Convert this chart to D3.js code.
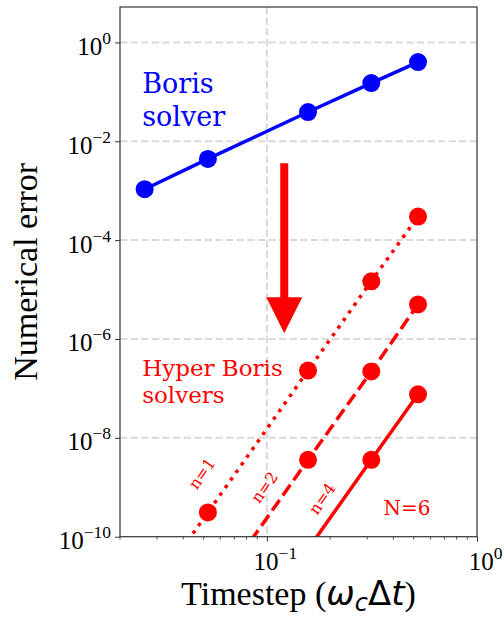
<!DOCTYPE html>
<html>
<head>
<meta charset="utf-8">
<script src="https://cdn.jsdelivr.net/npm/d3@7"></script>
<style>
  body { margin: 0; background: #fff; }
  svg { display: block; }
</style>
</head>
<body>
<svg id="chart" width="504" height="617"></svg>
<script>
// timesteps (omega_c * dt)
const timesteps = [0.0262, 0.0524, 0.157, 0.314, 0.524];

// errors (points below 1e-10 sit outside the axes, clipped)
const borisErr = [0.00107, 0.0044, 0.039, 0.15, 0.40];
const hyperN1 = [4.8e-12, 3.1e-10, 2.3e-7, 1.47e-5, 3.0e-4];
const hyperN2 = [null, 4.9e-12, 3.6e-9, 2.2e-7, 5.0e-6];
const hyperN4 = [null, null, 5.6e-11, 3.6e-9, 7.6e-8];

const yTickExps = [0, -2, -4, -6, -8, -10];
const xTickExps = [-1, 0];
const xMinorTicks = [0.02, 0.03, 0.04, 0.05, 0.06, 0.07, 0.08, 0.09, 0.2, 0.3, 0.4, 0.5, 0.6, 0.7, 0.8, 0.9];

const svg = d3.select("#chart");
const plot = { left: 120, right: 477, top: 7, bottom: 536.7 };

const x = d3.scaleLog().domain([0.02, 1]).range([plot.left, plot.right]);
const y = d3.scaleLog().domain([1e-10, 5.2]).range([plot.bottom, plot.top]);

const serif = "'Liberation Serif', 'Times New Roman', serif";
const dvSerif = "'DejaVu Serif', serif";
const sup = m => String(m).replace("-", "\u2212");

svg.append("defs").append("clipPath").attr("id", "clip")
    .append("rect")
    .attr("x", plot.left).attr("y", plot.top)
    .attr("width", plot.right - plot.left).attr("height", plot.bottom - plot.top);

// grid
const grid = svg.append("g").attr("stroke", "#d9d9d9").attr("stroke-width", 2).attr("stroke-dasharray", "7.4,3.2");
yTickExps.filter(e => e > -10).forEach(e => {
    grid.append("line").attr("x1", plot.left).attr("x2", plot.right)
        .attr("y1", y(Math.pow(10, e))).attr("y2", y(Math.pow(10, e)));
});
xTickExps.filter(e => e < 0).forEach(e => {
    grid.append("line").attr("y1", plot.top).attr("y2", plot.bottom)
        .attr("x1", x(Math.pow(10, e))).attr("x2", x(Math.pow(10, e)));
});

// series
const series = [
    { vals: borisErr, color: "#0000ff", dash: null },
    { vals: hyperN1, color: "#ff0000", dash: "3.5,5.8" },
    { vals: hyperN2, color: "#ff0000", dash: "12.95,5.6" },
    { vals: hyperN4, color: "#ff0000", dash: null }
];

const lines = svg.append("g").attr("clip-path", "url(#clip)");
const line = d3.line()
    .defined(d => d.v != null)
    .x(d => x(d.t))
    .y(d => y(d.v));

series.forEach(s => {
    const pts = timesteps.map((t, i) => ({ t: t, v: s.vals[i] }));
    lines.append("path")
        .datum(pts)
        .attr("d", line)
        .attr("fill", "none")
        .attr("stroke", s.color)
        .attr("stroke-width", 3.5)
        .attr("stroke-dasharray", s.dash);
    lines.selectAll(null)
        .data(pts.filter(d => d.v != null))
        .enter().append("circle")
        .attr("cx", d => x(d.t))
        .attr("cy", d => y(d.v))
        .attr("r", 9)
        .attr("fill", s.color);
});

// arrow from Boris to hyper Boris
const arrowX = 0.121, arrowFrom = 3.6e-3, arrowTo = 1.3e-6;
const ax = x(arrowX), ay0 = y(arrowFrom), ay1 = y(arrowTo);
const headLen = 36, headW = 18, shaftW = 4;
svg.append("path")
    .attr("d", `M${ax - shaftW},${ay0} L${ax + shaftW},${ay0} L${ax + shaftW},${ay1 - headLen}
        L${ax + headW},${ay1 - headLen} L${ax},${ay1} L${ax - headW},${ay1 - headLen}
        L${ax - shaftW},${ay1 - headLen} Z`)
    .attr("fill", "#ff0000");

// axes
const yAxis = svg.append("g")
    .attr("transform", `translate(${plot.left},0)`)
    .call(d3.axisLeft(y).tickValues(yTickExps.map(e => Math.pow(10, e))).tickFormat("").tickSize(5).tickSizeOuter(0));
yAxis.select(".domain").remove();
yAxis.selectAll(".tick line").attr("stroke", "#333").attr("stroke-width", 1);
yAxis.selectAll(".tick").each(function (d, i) {
    const t = d3.select(this).append("text")
        .attr("x", -9).attr("y", 12)
        .attr("text-anchor", "end")
        .attr("fill", "#000")
        .style("font-family", serif)
        .style("font-size", "25px");
    t.append("tspan").text("10");
    t.append("tspan").attr("dy", -11).style("font-size", "17.5px").text(sup(yTickExps[i]));
});

const xAxis = svg.append("g")
    .attr("transform", `translate(0,${plot.bottom})`)
    .call(d3.axisBottom(x).tickValues(xTickExps.map(e => Math.pow(10, e))).tickFormat("").tickSize(5).tickSizeOuter(0));
xAxis.select(".domain").remove();
xAxis.selectAll(".tick line").attr("stroke", "#333").attr("stroke-width", 1);
xAxis.selectAll(".tick").each(function (d, i) {
    const t = d3.select(this).append("text")
        .attr("x", 8).attr("y", 33)
        .attr("text-anchor", "middle")
        .attr("fill", "#000")
        .style("font-family", serif)
        .style("font-size", "25px");
    t.append("tspan").text("10");
    t.append("tspan").attr("dy", -11).style("font-size", "17.5px").text(sup(xTickExps[i]));
});
xAxis.selectAll(".minor")
    .data(xMinorTicks)
    .enter().append("line")
    .attr("x1", d => x(d)).attr("x2", d => x(d))
    .attr("y1", 0).attr("y2", 3)
    .attr("stroke", "#333").attr("stroke-width", 0.8);

// frame
svg.append("rect")
    .attr("x", plot.left).attr("y", plot.top)
    .attr("width", plot.right - plot.left).attr("height", plot.bottom - plot.top)
    .attr("fill", "none").attr("stroke", "#333").attr("stroke-width", 1.2);

// axis labels
svg.append("text")
    .attr("transform", `translate(37,${(plot.top + plot.bottom) / 2}) rotate(-90)`)
    .attr("text-anchor", "middle")
    .style("font-family", serif)
    .style("font-size", "34px")
    .text("Numerical error");

const xl = svg.append("text")
    .attr("x", (plot.left + plot.right) / 2).attr("y", 605)
    .attr("text-anchor", "middle")
    .style("font-family", serif)
    .style("font-size", "34px");
xl.append("tspan").text("Timestep (");
xl.append("tspan").style("font-family", "'DejaVu Sans'").style("font-style", "italic").text("\u03c9");
xl.append("tspan").attr("dy", 6).style("font-family", "'DejaVu Sans'").style("font-style", "italic").style("font-size", "24px").text("c");
xl.append("tspan").attr("dy", -6).style("font-family", "'DejaVu Sans'").text("\u0394");
xl.append("tspan").style("font-family", "'DejaVu Sans'").style("font-style", "italic").text("t");
xl.append("tspan").text(")");

// annotations
function multiline(xv, yv, lines, color, size, lh) {
    const t = svg.append("text")
        .attr("x", x(xv)).attr("y", y(yv))
        .attr("fill", color)
        .style("font-family", dvSerif)
        .style("font-size", size + "px");
    lines.forEach((l, i) => {
        t.append("tspan").attr("x", x(xv)).attr("dy", i === 0 ? 0 : lh).text(l);
    });
}
multiline(0.0255, 0.094, ["Boris", "solver"], "#0000ff", 27, 33);
multiline(0.0255, 1.8e-7, ["Hyper Boris", "solvers"], "#ff0000", 23, 27);

svg.append("text")
    .attr("x", x(0.359)).attr("y", y(2.8e-10))
    .attr("fill", "#ff0000")
    .style("font-family", dvSerif)
    .style("font-size", "20px")
    .text("N=6");

const orderLabels = [
    { text: "n=1", t: 0.049, v: 1.9e-9 },
    { text: "n=2", t: 0.0974, v: 1.0e-9 },
    { text: "n=4", t: 0.183, v: 5.9e-10 }
];
orderLabels.forEach(d => {
    svg.append("text")
        .attr("transform", `translate(${x(d.t)},${y(d.v)}) rotate(-55)`)
        .attr("text-anchor", "middle")
        .attr("dy", "0.35em")
        .attr("fill", "#ff0000")
        .style("font-family", dvSerif)
        .style("font-size", "16px")
        .text(d.text);
});
</script>
</body>
</html>
